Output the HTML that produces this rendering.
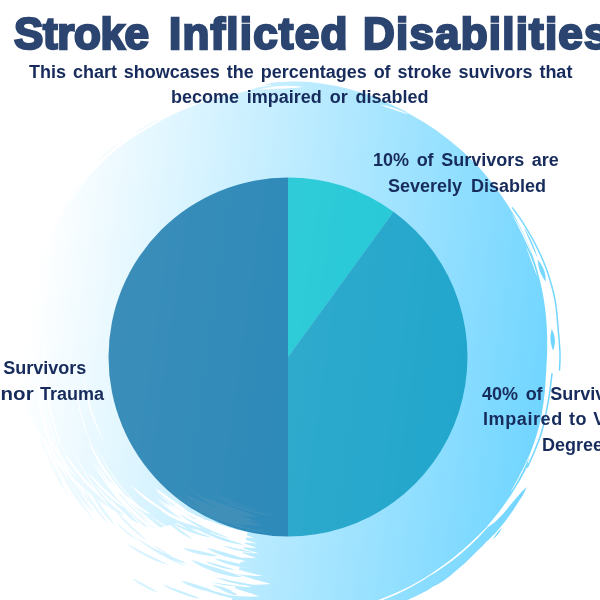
<!DOCTYPE html>
<html><head><meta charset="utf-8">
<style>
html,body{margin:0;padding:0;}
body{width:600px;height:600px;overflow:hidden;background:#fff;position:relative;font-family:"Liberation Sans",sans-serif;}
svg{position:absolute;left:0;top:0;}
.t{position:absolute;white-space:nowrap;color:#172c5c;font-weight:bold;will-change:transform;}
.ti{top:7px;font-size:44px;line-height:54px;color:#2b4570;-webkit-text-stroke:2.4px #2b4570;paint-order:stroke fill;}
.sub{font-size:18px;line-height:25.5px;word-spacing:1.9px;}
.lab{font-size:18px;line-height:26px;word-spacing:2.6px;}
</style></head><body>
<svg width="600" height="600" viewBox="0 0 600 600">
<defs>
<linearGradient id="g" x1="25" y1="350" x2="569.5" y2="428" gradientUnits="userSpaceOnUse">
<stop offset="0" stop-color="#ffffff"/><stop offset="1" stop-color="#69d3ff"/>
</linearGradient>
</defs>
<path d="M24.6 344.0C24.9 341.0 25.0 337.9 25.2 334.9C25.4 331.9 25.5 328.8 25.7 325.8C26.0 322.8 26.2 319.7 26.6 316.7C26.9 313.7 27.3 310.7 27.7 307.7C28.2 304.7 28.7 301.7 29.2 298.7C29.8 295.7 30.4 292.8 31.0 289.8C31.6 286.8 32.3 283.9 33.1 280.9C33.8 278.0 34.6 275.1 35.5 272.2C36.3 269.3 37.2 266.4 38.2 263.5C39.2 260.6 40.2 257.7 41.2 254.9C42.3 252.1 43.5 249.3 44.7 246.5C45.9 243.7 47.1 241.0 48.4 238.2C49.7 235.5 51.1 232.8 52.4 230.1C53.8 227.4 55.3 224.7 56.7 222.1C58.2 219.5 59.8 216.9 61.3 214.3C62.9 211.7 64.5 209.2 66.2 206.6C67.8 204.1 69.5 201.6 71.3 199.2C73.0 196.7 74.8 194.2 76.6 191.8C78.4 189.4 80.2 187.0 82.1 184.7C84.0 182.4 85.9 180.0 87.9 177.8C89.8 175.5 91.9 173.2 93.9 171.0C95.9 168.8 98.0 166.7 100.1 164.5C102.3 162.4 104.4 160.3 106.6 158.2C108.8 156.2 111.0 154.1 113.3 152.2C115.6 150.2 117.9 148.3 120.2 146.4C122.6 144.6 125.0 142.9 127.5 141.1C130.0 139.4 132.5 137.8 135.0 136.2C137.5 134.6 140.1 133.0 142.7 131.5C145.2 129.9 147.8 128.4 150.3 126.9C152.9 125.4 155.5 123.8 158.1 122.4C160.6 120.9 163.3 119.5 165.9 118.1C168.5 116.7 171.2 115.4 173.9 114.1C176.6 112.8 179.3 111.6 182.0 110.4C184.7 109.2 187.5 108.1 190.2 107.0C193.0 105.9 195.8 104.8 198.6 103.8C201.4 102.8 204.2 101.9 207.0 101.0C209.9 100.1 212.7 99.2 215.6 98.4C218.4 97.6 221.3 96.8 224.2 96.1C227.1 95.4 230.0 94.7 232.9 94.1C235.8 93.4 238.7 92.9 241.6 92.2C244.5 91.5 247.4 90.9 250.3 90.0C253.2 89.1 256.1 87.9 259.0 86.8C261.9 85.8 264.8 84.6 267.8 83.9C270.8 83.1 273.8 82.6 276.9 82.3C279.9 81.9 282.9 81.8 286.0 81.7C289.1 81.5 292.1 81.4 295.2 81.5C298.2 81.5 301.3 81.6 304.3 81.7C307.4 81.9 310.4 82.2 313.5 82.6C316.5 82.9 319.6 83.3 322.6 83.8C325.6 84.2 328.6 84.7 331.6 85.3C334.6 85.8 337.6 86.4 340.6 87.1C343.6 87.8 346.6 88.5 349.5 89.3C352.5 90.0 355.4 90.9 358.3 91.8C361.2 92.7 364.1 93.6 367.0 94.6C369.9 95.6 372.8 96.7 375.6 97.8C378.5 98.9 381.3 100.1 384.1 101.3C386.9 102.5 389.6 103.7 392.4 105.0C395.2 106.3 397.9 107.7 400.6 109.1C403.3 110.4 406.0 111.9 408.6 113.4C411.3 114.9 413.9 116.4 416.5 117.9C419.1 119.5 421.8 121.0 424.3 122.6C426.9 124.2 429.5 125.9 432.0 127.5C434.5 129.2 437.0 131.0 439.5 132.7C442.0 134.5 444.4 136.3 446.8 138.2C449.2 140.0 451.6 141.9 453.9 143.9C456.3 145.8 458.6 147.8 460.8 149.8C463.1 151.8 465.4 153.9 467.5 156.0C469.7 158.1 471.9 160.2 474.0 162.4C476.2 164.6 478.2 166.8 480.3 169.1C482.3 171.3 484.4 173.6 486.3 175.9C488.3 178.2 490.2 180.6 492.1 183.0C494.0 185.4 495.8 187.8 497.6 190.2C499.4 192.7 501.2 195.2 502.9 197.7C504.6 200.2 506.3 202.7 507.9 205.3C509.6 207.9 511.1 210.5 512.7 213.1C514.2 215.8 515.7 218.4 517.2 221.1C518.6 223.8 520.0 226.5 521.3 229.2C522.7 231.9 524.0 234.7 525.3 237.5C526.5 240.3 527.7 243.1 528.9 245.9C530.0 248.7 531.1 251.5 532.2 254.4C533.2 257.3 534.2 260.2 535.1 263.1C536.0 266.0 536.9 268.9 537.7 271.8C538.5 274.8 539.3 277.7 540.0 280.7C540.7 283.6 541.4 286.6 542.0 289.6C542.6 292.6 543.1 295.6 543.6 298.6C544.1 301.6 544.6 304.6 545.0 307.6C545.4 310.6 545.7 313.6 546.0 316.7C546.3 319.7 546.5 322.7 546.7 325.8C546.9 328.8 547.0 331.8 547.1 334.9C547.2 337.9 547.2 341.0 547.2 344.0C547.2 347.0 547.2 350.1 547.1 353.1C547.0 356.2 546.9 359.2 546.7 362.2C546.5 365.3 546.3 368.3 546.2 371.3C546.0 374.4 545.8 377.4 545.6 380.5C545.5 383.5 545.3 386.6 545.0 389.7C544.7 392.7 544.4 395.8 544.0 398.8C543.7 401.9 543.2 405.0 542.7 408.0C542.3 411.1 541.7 414.1 541.1 417.2C540.5 420.2 539.8 423.2 539.1 426.2C538.3 429.2 537.4 432.2 536.5 435.2C535.6 438.2 534.6 441.1 533.6 444.0C532.6 447.0 531.4 449.8 530.5 452.8C529.5 455.8 528.5 458.8 528.0 462.0C527.5 465.3 527.7 468.9 527.7 472.5C527.6 476.0 528.0 480.0 527.4 483.4C526.8 486.8 525.5 489.8 524.1 492.8C522.7 495.8 520.7 498.4 519.0 501.1C517.2 503.9 515.5 506.7 513.6 509.4C511.8 512.1 509.9 514.8 508.0 517.4C506.0 520.1 504.1 522.7 502.0 525.2C499.9 527.8 497.8 530.3 495.6 532.7C493.4 535.1 491.1 537.5 488.7 539.8C486.4 542.1 484.1 544.4 481.7 546.7C479.4 548.9 477.0 551.2 474.7 553.5C472.3 555.8 470.0 558.1 467.6 560.4C465.2 562.7 462.8 564.9 460.3 567.1C457.9 569.3 455.4 571.5 452.8 573.6C450.3 575.7 447.7 577.8 445.0 579.7C442.3 581.6 439.4 583.3 436.6 585.0C433.8 586.7 430.9 588.3 428.0 589.9C425.1 591.5 422.1 593.0 419.2 594.5C416.2 595.9 413.2 597.4 410.2 598.7C407.3 600.1 404.2 601.5 401.2 602.8C398.2 604.0 395.1 605.3 392.0 606.4C388.9 607.6 385.8 608.6 382.7 609.6C379.5 610.6 376.4 611.5 373.2 612.3C370.0 613.1 366.8 613.9 363.6 614.6C360.4 615.3 357.2 616.0 354.0 616.6C350.7 617.2 347.5 617.7 344.3 618.2C341.0 618.7 337.8 619.1 334.6 619.5C331.3 619.8 328.1 620.1 324.8 620.4C321.6 620.6 318.4 620.8 315.1 621.0C311.9 621.1 308.6 621.2 305.4 621.2C302.1 621.2 298.9 621.2 295.7 621.0C292.4 620.8 289.2 620.5 286.0 620.1C282.8 619.7 279.6 619.1 276.4 618.5C273.2 617.9 270.1 617.2 266.9 616.4C263.8 615.7 260.7 615.0 257.6 614.1C254.5 613.2 251.5 612.2 248.5 611.1C245.5 609.9 242.5 608.6 239.6 607.2C236.7 605.8 233.8 604.3 231.0 602.8C228.2 601.3 225.4 599.7 222.6 598.2C219.8 596.7 217.1 595.3 214.4 593.9C211.6 592.4 208.9 591.1 206.2 589.7C203.5 588.3 200.8 586.9 198.1 585.4C195.5 583.9 192.9 582.4 190.3 580.8C187.7 579.2 185.2 577.6 182.7 576.0C180.2 574.4 177.7 572.7 175.2 571.1C172.7 569.5 170.2 568.0 167.8 566.4C165.3 564.8 162.8 563.2 160.4 561.6C158.0 559.9 155.6 558.2 153.2 556.5C150.9 554.8 148.5 553.0 146.2 551.2C144.0 549.4 141.7 547.6 139.5 545.7C137.3 543.8 135.1 541.8 132.9 539.9C130.7 538.0 128.6 536.1 126.3 534.3C124.0 532.6 121.6 530.9 119.2 529.2C116.8 527.5 114.4 525.9 112.0 524.2C109.6 522.5 107.2 520.7 104.9 518.9C102.6 517.1 100.3 515.2 98.0 513.3C95.7 511.4 93.5 509.4 91.2 507.4C89.0 505.4 86.8 503.4 84.7 501.3C82.5 499.2 80.4 497.1 78.3 494.9C76.2 492.7 74.1 490.5 72.0 488.3C70.0 486.1 67.9 483.8 65.9 481.5C63.9 479.2 61.9 476.9 59.9 474.5C57.9 472.2 56.0 469.8 54.1 467.3C52.2 464.8 50.4 462.4 48.6 459.8C46.8 457.3 45.0 454.7 43.3 452.0C41.7 449.4 40.1 446.7 38.6 444.0C37.1 441.2 35.7 438.4 34.4 435.6C33.0 432.8 31.7 429.9 30.5 427.0C29.3 424.1 28.2 421.2 27.3 418.2C26.4 415.2 25.8 412.1 25.2 409.0C24.6 406.0 24.2 402.8 23.8 399.7C23.4 396.6 23.0 393.5 22.8 390.4C22.5 387.3 22.4 384.2 22.3 381.1C22.2 377.9 22.3 374.8 22.4 371.7C22.5 368.6 22.6 365.5 22.9 362.4C23.1 359.3 23.4 356.2 23.7 353.2C24.0 350.1 24.4 347.0 24.6 344.0Z" fill="url(#g)"/>
<path fill="#fff" d="M220.5 649.3L212.9 647.4L205.3 645.4L197.8 643.1L190.3 640.7L182.9 638.0L175.6 635.2L168.4 632.1L161.2 628.9L154.1 625.5L147.2 621.9L140.3 618.1L133.5 614.2L126.8 610.0L120.2 605.7L113.8 601.2L107.5 596.6L101.2 591.8L95.2 586.8L89.2 581.7L83.4 576.4L77.7 571.0L72.2 565.4L66.8 559.7L61.6 553.8L56.5 547.8L51.6 541.7L46.8 535.4L42.3 529.1L37.8 522.6L33.6 516.0L29.5 509.3L25.6 502.4L21.9 495.5L18.4 488.5L15.0 481.4L11.8 474.2L8.9 467.0L6.1 459.6L3.5 452.2L1.1 444.7L-1.1 437.2L-3.1 429.6L-4.9 421.9L-6.5 414.2L-7.9 406.5L23.2 401.3L26.1 407.9L29.1 414.4L32.3 420.7L36.1 426.9L40.0 432.8L44.0 438.6L48.1 444.3L52.4 449.8L56.3 455.4L60.0 460.9L63.8 466.3L67.8 471.6L72.0 476.7L76.7 481.5L81.5 486.0L86.4 490.5L91.3 494.7L96.4 498.8L101.7 502.5L107.1 506.1L112.6 509.5L118.1 512.7L123.6 515.7L129.2 518.6L134.7 521.4L140.3 523.9L145.9 526.3L151.6 528.5L159.3 527.8L167.9 525.4L175.9 523.2L183.5 521.0L190.9 518.6L196.2 519.2L201.5 519.7L206.7 520.1L211.4 521.3L215.8 523.1L220.3 524.7L224.8 526.1L229.3 527.5L233.8 528.8L238.4 530.0L243.0 531.0L247.6 531.9ZM139.6 520.3L133.6 515.2L127.8 509.9L122.3 504.3L117.1 498.4L112.1 492.3L107.4 486.0L102.9 479.6L98.7 472.9L94.9 466.0L91.4 459.0L95.5 465.7L99.7 472.3L104.1 478.7L108.7 485.1L113.5 491.3L118.4 497.3L123.4 503.3L128.7 509.1L134.1 514.7ZM186.4 545.4L179.9 542.2L173.6 538.7L167.5 534.8L161.5 530.8L155.8 526.4L150.2 521.8L144.8 517.0L139.6 512.0L134.7 506.7L130.1 501.2L135.3 506.1L140.6 511.0L145.9 515.8L151.4 520.4L157.0 524.9L162.6 529.2L168.4 533.5L174.3 537.5L180.3 541.5ZM206.5 525.9L201.9 524.5L197.3 522.8L192.8 520.9L188.4 518.8L184.1 516.5L179.8 514.1L175.7 511.5L171.7 508.7L167.7 505.8L164.0 502.6L168.3 505.1L172.5 507.6L176.7 510.0L181.0 512.5L185.2 514.8L189.4 517.1L193.7 519.3L198.0 521.5L202.3 523.7ZM64.7 454.4L59.5 443.1L55.1 431.4L51.4 419.5L48.4 407.4L46.0 395.2L44.3 382.8L43.4 370.3L43.1 357.8L43.6 345.4L44.8 332.9L44.4 345.4L44.5 357.8L45.1 370.2L46.2 382.6L48.0 394.9L50.2 407.0L53.1 419.1L56.4 431.0L60.3 442.8ZM176.9 532.5L174.1 531.3L171.3 529.9L168.6 528.5L166.0 527.0L163.3 525.5L160.7 523.8L158.2 522.1L155.7 520.3L153.3 518.5L150.9 516.5L153.6 518.1L156.2 519.7L158.8 521.3L161.4 522.9L164.0 524.5L166.6 526.1L169.2 527.7L171.8 529.3L174.4 530.8ZM222.0 533.4L216.3 531.5L210.7 529.2L205.3 526.8L199.9 524.1L194.6 521.2L189.5 518.1L184.5 514.7L179.7 511.2L175.0 507.5L170.5 503.5L175.4 507.0L180.3 510.3L185.3 513.6L190.3 516.8L195.4 519.8L200.6 522.7L205.9 525.5L211.2 528.2L216.6 530.8ZM137.0 508.0L130.9 502.5L125.0 496.7L119.5 490.5L114.2 484.1L109.2 477.5L104.5 470.6L100.1 463.5L96.0 456.3L92.3 448.8L89.0 441.1L93.0 448.5L97.0 455.7L101.3 462.8L105.8 469.8L110.5 476.6L115.4 483.2L120.6 489.6L125.9 495.9L131.4 502.0ZM38.4 463.4L32.7 450.4L27.9 437.0L23.9 423.4L20.6 409.5L18.2 395.5L16.5 381.4L15.7 367.2L15.8 353.0L16.6 338.8L18.4 324.7L17.6 338.9L17.4 353.0L17.7 367.1L18.8 381.2L20.5 395.2L22.8 409.1L25.8 422.9L29.4 436.5L33.7 450.0ZM147.3 533.9L142.9 531.2L138.6 528.2L134.5 525.0L130.5 521.7L126.7 518.2L122.9 514.6L119.3 510.8L115.9 506.9L112.6 502.9L109.5 498.7L113.3 502.3L117.0 505.9L120.7 509.6L124.5 513.1L128.2 516.6L132.0 520.1L135.8 523.6L139.6 527.0L143.5 530.4ZM57.6 462.2L54.2 455.7L51.2 449.0L48.5 442.2L46.1 435.3L43.9 428.3L42.1 421.2L40.5 414.1L39.2 406.9L38.2 399.6L37.7 392.3L39.3 399.4L40.9 406.5L42.6 413.6L44.4 420.6L46.3 427.6L48.4 434.6L50.6 441.5L52.8 448.4L55.2 455.3ZM220.3 527.0L216.2 526.2L212.3 525.0L208.5 523.7L204.7 522.2L200.9 520.5L197.3 518.7L193.7 516.7L190.3 514.5L186.9 512.2L183.7 509.7L187.5 511.3L191.2 513.0L194.9 514.8L198.5 516.5L202.2 518.3L205.8 520.0L209.4 521.7L213.0 523.4L216.7 525.2ZM220.0 533.9L213.0 531.9L206.2 529.4L199.5 526.5L192.9 523.3L186.5 519.8L180.2 516.0L174.2 511.9L168.3 507.5L162.7 502.8L157.3 497.8L163.3 502.1L169.2 506.3L175.3 510.4L181.4 514.3L187.6 518.0L193.9 521.5L200.4 524.8L206.8 528.0L213.4 531.0ZM208.8 526.4L204.1 524.7L199.5 522.7L194.9 520.6L190.4 518.3L186.0 515.9L181.6 513.3L177.4 510.6L173.2 507.7L169.1 504.7L165.2 501.5L169.4 504.3L173.6 507.2L177.9 509.9L182.2 512.5L186.5 515.0L190.9 517.5L195.3 519.8L199.8 522.1L204.3 524.3ZM193.9 528.2L190.7 527.4L187.7 526.3L184.7 525.0L181.7 523.7L178.8 522.2L176.0 520.6L173.3 518.9L170.6 517.1L168.0 515.2L165.5 513.1L168.6 514.4L171.5 515.9L174.4 517.4L177.2 518.8L180.1 520.3L182.9 521.9L185.7 523.4L188.4 524.9L191.2 526.5ZM111.1 509.3L106.2 503.9L101.6 498.3L97.1 492.5L92.9 486.5L88.9 480.4L85.2 474.2L81.6 467.8L78.3 461.3L75.2 454.7L72.4 448.0L75.6 454.5L78.9 461.0L82.4 467.4L86.0 473.7L89.8 479.9L93.8 486.0L97.9 491.9L102.1 497.8L106.6 503.6ZM205.2 529.3L199.8 527.2L194.5 524.8L189.3 522.2L184.2 519.5L179.2 516.5L174.4 513.3L169.6 510.0L164.9 506.5L160.4 502.8L156.1 498.8L160.8 502.4L165.5 505.8L170.2 509.2L175.0 512.4L179.9 515.5L184.9 518.5L189.9 521.4L194.9 524.1L200.0 526.8ZM56.9 452.3L52.4 442.0L48.5 431.5L45.2 420.7L42.3 409.8L40.0 398.8L38.2 387.7L37.0 376.5L36.3 365.2L36.1 353.9L36.6 342.6L36.6 353.9L37.1 365.2L38.0 376.4L39.3 387.5L41.2 398.6L43.4 409.6L46.2 420.5L49.3 431.2L52.9 441.8ZM95.9 454.6L92.1 447.1L88.8 439.5L85.8 431.7L83.2 423.9L80.8 415.9L78.8 407.8L77.2 399.7L75.9 391.5L75.0 383.2L74.5 374.9L75.4 383.2L76.6 391.3L78.0 399.5L79.8 407.6L81.8 415.6L84.1 423.6L86.6 431.4L89.4 439.2L92.5 447.0ZM170.5 540.2L165.8 537.9L161.2 535.3L156.7 532.6L152.3 529.8L148.0 526.8L143.8 523.6L139.6 520.3L135.6 516.9L131.7 513.4L128.0 509.6L132.1 513.0L136.2 516.3L140.4 519.5L144.6 522.6L148.8 525.7L153.1 528.8L157.4 531.7L161.8 534.6L166.1 537.4ZM214.5 534.9L207.9 532.4L201.5 529.6L195.2 526.5L189.0 523.2L183.0 519.5L177.1 515.7L171.4 511.5L165.9 507.2L160.6 502.6L155.5 497.7L160.9 502.2L166.4 506.5L172.1 510.7L177.8 514.7L183.7 518.5L189.6 522.1L195.7 525.6L201.9 528.9L208.1 531.9ZM151.9 524.6L146.4 520.5L141.3 516.1L136.3 511.5L131.5 506.7L126.9 501.7L122.5 496.5L118.3 491.2L114.4 485.6L110.7 480.0L107.3 474.1L111.3 479.5L115.4 484.9L119.6 490.2L123.9 495.4L128.3 500.5L132.8 505.5L137.4 510.4L142.1 515.2L147.0 519.9ZM172.8 540.1L168.9 538.2L165.2 536.0L161.5 533.7L158.0 531.2L154.6 528.6L151.2 525.8L148.0 523.0L144.9 520.0L141.9 516.8L139.2 513.5L142.6 516.0L146.0 518.7L149.4 521.3L152.7 524.0L156.1 526.7L159.4 529.3L162.8 532.0L166.1 534.6L169.5 537.3ZM158.8 538.9L154.9 536.2L151.1 533.4L147.4 530.4L143.7 527.4L140.2 524.2L136.8 520.9L133.4 517.6L130.2 514.1L127.1 510.5L124.1 506.8L127.5 510.2L130.8 513.5L134.1 516.8L137.5 520.1L141.0 523.3L144.5 526.5L148.0 529.7L151.6 532.7L155.2 535.8ZM104.4 442.6L100.7 436.0L97.4 429.2L94.5 422.2L91.8 415.1L89.4 407.9L87.3 400.5L85.6 393.1L84.2 385.6L83.2 378.0L82.5 370.4L83.8 377.9L85.3 385.4L86.9 392.8L88.8 400.2L90.9 407.5L93.2 414.7L95.7 421.8L98.5 428.8L101.4 435.7ZM237.6 538.9L228.3 536.3L219.2 533.2L210.3 529.5L201.6 525.3L193.1 520.7L185.0 515.6L177.1 510.1L169.5 504.1L162.3 497.7L155.5 490.9L162.7 497.3L170.1 503.4L177.7 509.2L185.6 514.6L193.8 519.6L202.2 524.2L210.7 528.5L219.5 532.3L228.5 535.8ZM115.3 487.2L111.8 483.0L108.6 478.6L105.5 474.1L102.5 469.5L99.7 464.8L97.1 460.0L94.6 455.1L92.2 450.2L90.0 445.2L88.1 440.1L90.5 445.0L92.9 449.9L95.4 454.7L98.0 459.5L100.7 464.2L103.4 468.9L106.3 473.6L109.2 478.2L112.2 482.7ZM209.4 523.9L205.4 522.7L201.4 521.2L197.5 519.6L193.6 517.7L189.9 515.8L186.2 513.7L182.6 511.5L179.0 509.1L175.6 506.6L172.3 503.9L176.1 505.9L179.8 508.0L183.5 510.1L187.2 512.2L190.9 514.2L194.6 516.2L198.3 518.1L202.0 520.0L205.7 522.0ZM54.6 436.0L52.5 431.1L50.6 426.0L48.8 420.9L47.2 415.7L45.7 410.5L44.4 405.3L43.2 400.0L42.1 394.7L41.2 389.3L40.5 384.0L41.6 389.3L42.7 394.6L43.9 399.9L45.2 405.1L46.5 410.4L48.0 415.6L49.5 420.7L51.1 425.9L52.8 431.0ZM120.0 511.4L117.0 509.2L114.1 506.7L111.3 504.2L108.6 501.5L106.0 498.8L103.5 496.0L101.1 493.1L98.8 490.2L96.5 487.1L94.5 483.9L97.2 486.7L99.8 489.4L102.4 492.2L104.9 494.9L107.5 497.7L110.0 500.4L112.6 503.2L115.1 505.9L117.6 508.6ZM166.6 538.7L157.6 533.1L149.0 526.9L140.8 520.2L133.0 513.1L125.6 505.5L118.6 497.5L112.1 489.2L106.1 480.4L100.6 471.4L95.8 462.0L101.6 470.8L107.6 479.4L113.9 487.8L120.6 495.9L127.5 503.8L134.8 511.3L142.3 518.6L150.2 525.6L158.3 532.2ZM84.3 500.2L79.2 492.7L74.3 485.0L69.8 477.2L65.6 469.1L61.8 460.9L58.2 452.6L55.0 444.1L52.1 435.5L49.6 426.8L47.5 418.1L50.0 426.7L52.7 435.4L55.7 443.9L59.0 452.3L62.5 460.6L66.4 468.8L70.5 476.8L74.8 484.7L79.5 492.5ZM95.0 511.9L87.1 502.0L79.9 491.7L73.2 480.9L67.1 469.9L61.5 458.5L56.6 446.9L52.3 435.0L48.7 422.9L45.7 410.6L43.4 398.2L46.0 410.5L49.2 422.7L53.0 434.8L57.4 446.6L62.3 458.2L67.8 469.5L73.8 480.6L80.4 491.3L87.4 501.8ZM146.8 513.8L140.1 507.9L133.8 501.7L127.7 495.3L121.9 488.5L116.4 481.5L111.3 474.2L106.5 466.7L102.0 459.0L97.9 451.1L94.2 443.0L98.2 450.9L102.6 458.7L107.1 466.3L112.0 473.7L117.2 480.9L122.6 487.9L128.3 494.7L134.2 501.3L140.4 507.6ZM188.9 512.0L184.9 510.6L181.1 508.8L177.4 506.7L173.9 504.6L170.4 502.2L167.1 499.7L163.8 497.1L160.7 494.3L157.7 491.4L155.1 488.1L158.7 490.3L162.2 492.7L165.6 495.1L168.9 497.5L172.3 499.9L175.7 502.2L179.0 504.6L182.4 507.0L185.7 509.4ZM172.8 515.6L167.9 513.5L163.2 511.1L158.7 508.4L154.2 505.6L149.8 502.6L145.6 499.4L141.5 496.0L137.5 492.5L133.7 488.8L130.2 484.8L134.6 488.0L138.8 491.3L143.0 494.6L147.3 497.7L151.5 500.8L155.8 503.9L160.0 506.8L164.3 509.7L168.6 512.6ZM150.9 514.7L145.6 512.4L140.7 509.6L135.8 506.5L131.2 503.3L126.6 499.8L122.2 496.1L117.9 492.3L113.8 488.3L109.9 484.0L106.4 479.5L111.1 483.2L115.6 486.9L120.0 490.6L124.4 494.3L128.8 497.8L133.3 501.3L137.7 504.7L142.2 508.0L146.6 511.3ZM125.6 508.4L121.1 505.7L116.8 502.7L112.7 499.4L108.7 496.0L104.9 492.5L101.2 488.8L97.6 485.0L94.1 481.0L90.8 476.9L87.9 472.5L91.9 476.2L95.7 480.0L99.5 483.7L103.2 487.4L107.0 491.0L110.7 494.5L114.5 498.0L118.3 501.4L122.1 504.9ZM191.5 524.1L187.9 523.5L184.6 522.6L181.2 521.4L178.0 520.1L174.8 518.7L171.6 517.2L168.6 515.5L165.6 513.7L162.7 511.7L160.1 509.4L163.6 510.6L166.8 512.1L170.1 513.5L173.2 515.0L176.4 516.4L179.5 517.9L182.6 519.3L185.6 520.8L188.6 522.4ZM107.7 503.0L102.3 499.0L97.2 494.6L92.3 490.0L87.5 485.2L83.0 480.2L78.6 475.0L74.4 469.6L70.4 464.1L66.7 458.3L63.4 452.3L67.8 457.8L72.0 463.3L76.3 468.6L80.6 473.9L85.0 479.0L89.5 484.0L94.0 488.8L98.6 493.6L103.2 498.3ZM77.6 478.5L72.9 473.8L68.5 468.8L64.4 463.7L60.4 458.3L56.6 452.9L53.0 447.2L49.5 441.4L46.3 435.5L43.3 429.5L40.7 423.3L44.3 429.2L47.7 435.1L51.2 440.9L54.8 446.5L58.4 452.1L62.1 457.6L65.9 462.9L69.8 468.2L73.7 473.3ZM270.9 584.0L263.4 584.6L255.8 584.7L248.3 584.4L240.7 583.8L233.2 582.5L225.9 580.6L218.6 578.5L211.4 576.1L204.3 573.5L197.3 570.6L200.8 562.4L207.6 565.1L214.4 567.6L221.3 569.9L228.3 572.0L235.4 573.8L242.4 575.8L249.4 578.0L256.5 580.1L263.7 581.9ZM263.0 576.1L256.6 576.0L250.2 575.6L243.9 574.9L237.5 574.0L231.2 572.7L225.0 570.9L218.9 569.0L212.8 566.9L206.8 564.7L200.9 562.3L202.8 557.7L208.6 560.0L214.5 562.2L220.5 564.3L226.4 566.1L232.5 567.8L238.5 569.6L244.6 571.4L250.7 573.0L256.8 574.5ZM256.7 548.0L252.0 548.0L247.3 547.6L242.7 547.1L238.0 546.5L233.4 545.5L228.9 544.1L224.5 542.7L220.0 541.1L215.7 539.4L211.3 537.6L213.5 532.6L217.7 534.3L221.9 535.9L226.2 537.5L230.6 538.9L234.9 540.2L239.3 541.7L243.6 543.3L247.9 544.8L252.3 546.3ZM256.2 558.0L251.1 558.1L246.0 557.8L241.0 557.4L236.0 556.8L231.0 555.7L226.2 554.3L221.4 552.7L216.6 551.0L211.9 549.2L207.2 547.3L209.8 541.3L214.3 543.2L218.9 544.9L223.5 546.6L228.1 548.1L232.8 549.5L237.4 551.1L242.1 552.9L246.7 554.5L251.4 556.2ZM253.8 537.8L249.8 537.7L245.8 537.3L241.9 536.8L237.9 536.2L234.0 535.3L230.2 534.1L226.4 532.8L222.7 531.4L218.9 530.0L215.2 528.4L217.0 524.3L220.6 525.8L224.2 527.2L227.9 528.5L231.6 529.8L235.3 530.9L239.0 532.2L242.7 533.7L246.4 535.0L250.1 536.4ZM259.5 596.3L252.5 596.7L245.6 596.6L238.6 596.2L231.7 595.5L224.9 594.2L218.2 592.4L211.6 590.3L205.0 588.0L198.5 585.6L192.1 583.0L195.6 574.7L201.8 577.2L208.0 579.6L214.4 581.7L220.8 583.7L227.2 585.5L233.6 587.6L239.9 589.9L246.4 592.0L252.9 594.1ZM258.7 553.3L253.6 553.2L248.5 552.9L243.5 552.3L238.4 551.5L233.4 550.5L228.6 549.0L223.7 547.4L218.9 545.8L214.2 543.9L209.5 542.0L211.4 537.4L216.0 539.3L220.6 541.1L225.3 542.7L230.0 544.2L234.8 545.6L239.5 547.2L244.3 548.8L249.0 550.3L253.8 551.8ZM256.8 543.4L252.3 543.2L247.8 542.7L243.4 542.1L238.9 541.4L234.6 540.4L230.2 539.1L226.0 537.6L221.7 536.1L217.5 534.5L213.4 532.8L214.9 529.1L219.0 530.8L223.1 532.4L227.3 533.9L231.5 535.2L235.7 536.5L239.9 537.9L244.1 539.3L248.3 540.7L252.5 542.0ZM246.3 561.8L242.1 561.7L237.8 561.2L233.6 560.7L229.4 560.0L225.3 559.0L221.2 557.7L217.2 556.3L213.2 554.8L209.3 553.3L205.4 551.7L207.3 547.1L211.1 548.7L215.0 550.2L218.9 551.6L222.8 552.9L226.8 554.2L230.7 555.6L234.5 557.2L238.5 558.7L242.4 560.2ZM251.6 587.1L245.8 587.1L240.0 586.6L234.3 585.9L228.6 585.1L222.9 583.9L217.4 582.2L211.9 580.4L206.5 578.5L201.1 576.4L195.8 574.2L198.1 568.7L203.3 570.8L208.6 572.9L213.9 574.7L219.2 576.5L224.6 578.1L230.0 579.9L235.3 581.7L240.7 583.6L246.1 585.3ZM247.1 567.6L242.5 567.2L238.0 566.7L233.6 566.0L229.1 565.1L224.7 564.0L220.4 562.7L216.1 561.2L211.8 559.7L207.6 558.0L203.4 556.3L205.0 552.6L209.1 554.3L213.2 555.9L217.4 557.4L221.6 558.9L225.9 560.2L230.1 561.7L234.3 563.2L238.5 564.7L242.8 566.1ZM259.2 89.4L263.6 88.3L268.1 87.4L272.5 86.8L277.0 86.3L281.5 86.0L286.0 85.8L290.5 85.9L295.0 86.1L299.5 86.4L304.0 87.1L299.4 87.6L294.9 87.9L290.5 88.1L286.0 88.4L281.5 88.6L277.1 88.8L272.6 89.0L268.2 89.2L263.7 89.4ZM250.0 88.0L252.2 87.3L254.4 86.7L256.6 86.3L258.9 85.8L261.1 85.5L263.4 85.2L265.6 85.0L267.9 84.9L270.1 84.8L272.4 84.9L270.2 85.4L267.9 85.8L265.7 86.2L263.5 86.6L261.2 86.9L259.0 87.2L256.8 87.5L254.5 87.7L252.3 87.9ZM380.3 104.7L383.2 105.2L386.1 105.8L389.0 106.6L391.8 107.4L394.6 108.3L397.4 109.3L400.2 110.4L402.9 111.6L405.6 112.8L408.2 114.3L405.2 113.5L402.4 112.6L399.6 111.7L396.8 110.7L394.0 109.8L391.2 108.8L388.4 107.8L385.7 106.9L383.0 105.8ZM545.5 473.4L532.3 483.4L527.2 486.6L521.9 491.4L512.4 502.5L503.2 513.7L494.8 522.3L486.7 527.9L486.2 527.5L499.7 511.0L510.7 495.5L520.5 479.4L528.2 464.7ZM491.3 522.4L487.9 527.0L484.2 531.2L480.3 535.4L476.4 539.4L472.3 543.4L468.2 547.2L464.0 551.0L459.6 554.7L455.3 558.2L450.8 561.7L446.2 565.0L441.6 568.3L436.9 571.4L432.1 574.5L427.2 577.3L422.2 579.8L426.7 576.5L431.5 573.4L436.1 570.3L440.7 567.1L445.3 563.7L449.8 560.4L454.2 556.9L458.6 553.3L462.9 549.7L467.1 546.0L471.2 542.2L475.3 538.3L479.3 534.4L483.3 530.4L487.2 526.4ZM430.4 575.0L425.0 578.9L419.5 582.3L413.8 585.6L408.0 588.7L402.1 591.7L396.2 594.5L390.2 597.1L384.1 599.6L378.0 602.0L371.8 604.1L365.5 606.2L359.2 608.0L352.9 609.7L346.5 611.2L340.0 612.5L333.5 613.3L339.8 611.6L346.2 610.0L352.5 608.4L358.8 606.6L365.1 604.6L371.3 602.6L377.4 600.4L383.5 598.0L389.6 595.6L395.5 593.0L401.5 590.2L407.3 587.4L413.1 584.4L418.9 581.3L424.6 578.1ZM498.2 536.4L497.4 537.9L496.4 539.2L495.3 540.5L494.1 541.6L492.7 542.5L491.2 543.4L489.5 544.0L487.7 544.6L485.8 545.0L483.8 545.3L484.7 543.9L485.7 542.6L486.8 541.4L488.1 540.4L489.4 539.4L490.9 538.6L492.6 537.9L494.4 537.3L496.2 536.8ZM445.0 584.2L443.8 585.2L442.6 586.1L441.3 586.9L440.0 587.5L438.5 588.1L437.0 588.5L435.4 588.7L433.7 588.8L431.9 588.8L430.1 588.7L431.3 587.8L432.5 586.9L433.8 586.2L435.2 585.5L436.6 585.0L438.1 584.6L439.7 584.4L441.4 584.2L443.1 584.1ZM402.7 606.2L401.4 606.9L400.1 607.6L398.6 608.1L397.2 608.5L395.7 608.8L394.1 608.9L392.5 608.9L390.8 608.8L389.1 608.6L387.4 608.2L388.7 607.5L390.1 606.9L391.5 606.5L393.0 606.1L394.5 605.8L396.0 605.7L397.6 605.7L399.3 605.8L401.0 605.9ZM532.3 448.6L530.7 453.2L528.9 457.8L527.0 462.3L524.9 466.8L522.8 471.2L520.5 475.6L518.1 479.9L515.7 484.2L513.1 488.4L510.3 492.5L512.7 488.1L515.1 483.8L517.4 479.5L519.7 475.1L521.9 470.8L524.1 466.4L526.2 461.9L528.3 457.5L530.3 453.0ZM511.7 213.7L514.2 217.5L516.6 221.4L518.9 225.3L521.0 229.4L523.1 233.4L525.0 237.6L526.9 241.8L528.6 246.0L530.2 250.3L531.6 254.6L529.7 250.4L527.8 246.3L525.9 242.2L524.0 238.0L522.0 234.0L520.0 229.9L517.9 225.8L515.9 221.8L513.8 217.7ZM526.1 247.0L527.6 249.8L528.9 252.7L530.2 255.6L531.4 258.5L532.6 261.5L533.6 264.5L534.6 267.5L535.6 270.6L536.4 273.6L537.1 276.7L536.0 273.7L534.9 270.7L533.8 267.8L532.7 264.8L531.6 261.8L530.5 258.9L529.4 255.9L528.3 252.9L527.2 250.0Z"/>
<path fill="#fff" fill-opacity="0.9" d="M261.3 525.4L255.2 525.6L249.1 525.3L243.1 524.7L237.0 523.8L231.0 522.4L225.2 520.7L219.4 518.5L213.8 516.0L208.4 513.1L203.2 509.9L198.3 506.3L193.5 502.5L189.0 498.4L184.8 494.0L190.3 496.5L195.8 498.9L201.3 501.3L206.7 503.6L212.2 505.8L217.6 508.1L222.9 510.3L228.3 512.5L233.7 514.7L239.1 516.9L244.6 519.1L250.1 521.2L255.7 523.3ZM257.0 516.5L252.1 516.5L247.3 516.2L242.5 515.7L237.7 514.8L233.0 513.7L228.4 512.2L223.9 510.4L219.5 508.4L215.3 506.0L211.2 503.5L207.3 500.6L203.5 497.6L208.2 499.1L212.7 500.6L217.2 502.1L221.7 503.6L226.2 505.1L230.6 506.6L235.0 508.2L239.3 509.8L243.7 511.5L248.1 513.1L252.5 514.8ZM269.6 532.5L259.7 531.5L250.0 529.8L240.4 527.4L231.0 524.4L221.8 520.9L212.8 516.8L204.1 512.1L195.8 506.9L187.8 501.2L180.3 494.9L188.3 500.5L196.5 505.7L205.0 510.6L213.6 515.0L222.5 519.0L231.6 522.6L240.9 525.7L250.3 528.4L259.9 530.6ZM250.7 518.7L242.7 516.9L235.0 514.6L227.3 511.8L219.9 508.6L212.6 505.0L205.6 500.9L198.8 496.5L192.2 491.8L186.0 486.7L180.1 481.1L186.4 486.1L192.9 490.9L199.5 495.4L206.3 499.6L213.3 503.5L220.5 507.2L227.8 510.5L235.3 513.5L242.9 516.2ZM274.1 515.4L267.8 514.9L261.5 514.0L255.2 512.7L249.0 511.2L242.9 509.4L236.8 507.3L230.9 504.9L225.1 502.3L219.5 499.3L214.1 496.1L219.8 498.8L225.5 501.4L231.4 503.8L237.3 506.0L243.3 508.1L249.3 509.9L255.4 511.6L261.6 513.0L267.9 514.3ZM258.2 510.1L252.6 509.1L247.1 507.7L241.6 506.0L236.2 504.1L230.9 502.0L225.7 499.7L220.6 497.1L215.6 494.3L210.8 491.3L206.1 488.0L211.0 490.8L216.0 493.6L221.0 496.2L226.1 498.6L231.3 500.9L236.6 503.0L241.9 505.0L247.3 506.9L252.7 508.5ZM227.1 524.3L220.4 521.8L213.8 519.0L207.4 515.9L201.1 512.4L195.0 508.7L189.1 504.7L183.4 500.5L177.9 495.9L172.6 491.2L167.6 486.1L173.0 490.7L178.5 495.2L184.1 499.5L189.9 503.6L195.8 507.5L201.8 511.3L207.9 514.8L214.2 518.1L220.6 521.3ZM245.9 525.8L240.0 524.5L234.1 522.9L228.3 520.9L222.7 518.7L217.1 516.2L211.7 513.4L206.4 510.5L201.3 507.2L196.3 503.8L191.5 500.0L196.7 503.0L201.9 506.1L207.2 508.9L212.5 511.7L217.9 514.4L223.4 516.9L228.9 519.3L234.5 521.5L240.2 523.7ZM258.9 522.0L254.3 521.4L249.6 520.5L245.1 519.4L240.6 518.1L236.1 516.6L231.8 514.9L227.5 513.1L223.3 511.0L219.2 508.8L215.2 506.2L219.6 507.9L223.9 509.6L228.2 511.3L232.5 512.9L236.8 514.5L241.2 516.1L245.6 517.6L250.0 519.0L254.4 520.5Z"/>
<path fill="url(#g)" d="M86.3 509.0L82.6 505.2L79.2 501.1L75.9 496.9L72.9 492.6L69.9 488.2L67.2 483.7L64.6 479.1L62.2 474.3L60.0 469.5L58.1 464.5L61.1 469.0L63.8 473.5L66.6 478.0L69.4 482.4L72.2 486.9L75.0 491.3L77.8 495.7L80.7 500.1L83.5 504.5ZM95.1 522.1L91.4 517.9L87.9 513.4L84.5 508.9L81.3 504.3L78.3 499.6L75.4 494.7L72.7 489.8L70.1 484.8L67.7 479.8L65.6 474.6L68.3 479.4L71.1 484.3L73.9 489.1L76.7 493.9L79.6 498.6L82.6 503.4L85.6 508.1L88.7 512.7L91.9 517.4ZM59.4 480.4L57.0 476.5L54.8 472.5L52.8 468.4L50.8 464.3L49.0 460.1L47.3 455.8L45.8 451.5L44.4 447.2L43.1 442.8L42.0 438.3L43.7 442.6L45.4 446.8L47.0 451.0L48.7 455.2L50.5 459.4L52.2 463.6L54.0 467.8L55.8 472.0L57.6 476.2ZM115.4 525.9L111.9 522.8L108.7 519.4L105.7 515.8L102.8 512.2L100.0 508.5L97.4 504.6L95.0 500.6L92.7 496.6L90.6 492.4L88.8 488.1L91.6 491.7L94.3 495.4L96.9 499.2L99.6 502.9L102.2 506.7L104.8 510.5L107.5 514.3L110.2 518.1L112.8 521.9ZM89.2 508.6L85.8 504.9L82.6 501.0L79.6 497.0L76.7 492.8L73.9 488.6L71.3 484.3L68.8 479.9L66.5 475.4L64.4 470.8L62.5 466.2L65.1 470.4L67.7 474.8L70.3 479.1L72.9 483.3L75.6 487.6L78.3 491.8L81.0 496.0L83.7 500.2L86.5 504.4ZM68.1 486.9L65.5 482.5L63.0 478.1L60.6 473.6L58.4 469.0L56.3 464.4L54.3 459.7L52.4 455.0L50.6 450.2L49.0 445.4L47.5 440.5L49.3 445.2L51.2 450.0L53.0 454.7L55.0 459.4L57.0 464.0L59.1 468.6L61.3 473.2L63.5 477.8L65.8 482.4ZM147.6 541.3L143.5 538.5L139.7 535.6L135.9 532.5L132.2 529.2L128.7 525.8L125.2 522.4L121.9 518.8L118.7 515.1L115.7 511.3L112.8 507.3L116.3 510.7L119.6 514.2L123.0 517.7L126.5 521.1L129.9 524.5L133.4 527.9L136.9 531.3L140.4 534.6L144.0 537.9ZM45.5 455.0L44.6 453.3L43.9 451.4L43.2 449.6L42.5 447.7L42.0 445.8L41.5 443.9L41.0 442.0L40.6 440.0L40.3 438.1L40.1 436.1L40.9 437.9L41.6 439.7L42.2 441.6L42.7 443.5L43.3 445.3L43.8 447.2L44.3 449.2L44.8 451.1L45.2 453.0ZM230.0 538.4L224.4 537.0L218.9 535.3L213.5 533.4L208.1 531.2L202.9 528.8L197.7 526.2L192.7 523.3L187.8 520.2L183.1 517.0L178.5 513.4L183.6 516.2L188.6 519.0L193.6 521.7L198.7 524.3L203.8 526.9L209.0 529.3L214.2 531.7L219.4 534.0L224.7 536.2ZM57.0 473.9L54.6 469.8L52.4 465.6L50.4 461.3L48.4 457.0L46.5 452.6L44.8 448.2L43.2 443.8L41.7 439.3L40.3 434.7L39.1 430.1L40.8 434.6L42.5 439.0L44.1 443.4L45.9 447.8L47.6 452.2L49.4 456.5L51.3 460.9L53.2 465.2L55.1 469.5ZM69.8 499.0L66.5 494.4L63.5 489.6L60.6 484.7L57.8 479.8L55.3 474.7L52.9 469.6L50.6 464.4L48.5 459.2L46.6 453.9L44.9 448.5L47.2 453.6L49.5 458.8L51.8 463.9L54.2 469.0L56.7 474.0L59.2 479.1L61.8 484.1L64.4 489.0L67.1 494.0ZM192.5 539.2L188.8 537.5L185.2 535.5L181.8 533.4L178.4 531.2L175.1 528.8L172.0 526.3L168.9 523.6L165.9 520.9L163.1 518.0L160.5 514.8L163.8 517.1L166.9 519.5L170.1 521.9L173.3 524.3L176.5 526.7L179.7 529.2L182.9 531.6L186.1 534.1L189.3 536.5ZM82.6 506.8L80.5 504.4L78.6 502.0L76.7 499.5L74.9 497.0L73.2 494.4L71.5 491.8L69.9 489.2L68.4 486.5L66.9 483.8L65.6 481.0L67.4 483.5L69.1 486.1L70.8 488.7L72.5 491.3L74.2 493.8L75.9 496.4L77.6 499.0L79.2 501.6L80.9 504.1ZM202.9 535.6L199.4 534.4L196.0 533.0L192.7 531.4L189.4 529.7L186.2 527.9L183.1 525.9L180.0 523.9L177.0 521.7L174.1 519.4L171.4 516.9L174.7 518.7L177.8 520.5L181.0 522.4L184.1 524.3L187.2 526.1L190.4 528.0L193.5 529.9L196.7 531.7L199.8 533.6ZM186.7 566.4L181.0 564.3L175.4 561.9L169.9 559.4L164.5 556.6L159.1 553.7L153.9 550.5L148.8 547.2L143.8 543.7L138.9 540.0L134.3 536.0L139.4 539.4L144.5 542.7L149.7 546.0L154.8 549.2L160.1 552.2L165.3 555.2L170.6 558.1L176.0 560.9L181.3 563.6ZM232.1 591.1L230.0 591.0L227.9 590.7L225.8 590.3L223.8 589.8L221.8 589.2L219.8 588.5L217.8 587.7L215.9 586.9L214.0 585.9L212.2 584.8L214.3 585.0L216.3 585.4L218.4 585.9L220.4 586.5L222.4 587.1L224.4 587.7L226.3 588.4L228.3 589.2L230.2 590.0ZM171.2 556.2L169.4 555.4L167.6 554.6L165.8 553.6L164.1 552.6L162.3 551.6L160.7 550.5L159.0 549.4L157.4 548.2L155.8 547.0L154.2 545.7L156.0 546.6L157.8 547.6L159.5 548.6L161.2 549.7L162.9 550.7L164.6 551.8L166.3 552.8L168.0 553.9L169.6 555.0ZM239.4 586.3L236.4 586.3L233.5 586.1L230.6 585.9L227.6 585.5L224.7 585.2L221.8 584.7L218.9 584.1L216.0 583.5L213.1 582.8L210.3 582.0L213.3 582.4L216.2 582.8L219.1 583.2L222.1 583.7L225.0 584.1L227.9 584.5L230.8 585.0L233.7 585.4L236.5 585.8ZM108.4 524.4L105.2 521.1L102.1 517.7L99.2 514.1L96.4 510.5L93.7 506.7L91.1 502.9L88.7 499.0L86.5 495.0L84.3 490.9L82.5 486.7L85.1 490.4L87.7 494.2L90.2 497.9L92.8 501.7L95.4 505.5L98.0 509.2L100.6 513.0L103.2 516.8L105.9 520.5ZM97.7 510.1L94.8 507.4L92.0 504.7L89.2 501.8L86.6 498.9L84.0 495.9L81.5 492.8L79.1 489.7L76.7 486.5L74.5 483.2L72.4 479.9L74.9 483.0L77.4 486.1L79.9 489.1L82.4 492.2L85.0 495.2L87.5 498.2L90.0 501.2L92.6 504.2L95.2 507.1ZM136.7 540.0L134.4 538.6L132.2 537.1L130.0 535.5L127.9 533.9L125.8 532.1L123.8 530.4L121.8 528.6L119.9 526.7L118.0 524.8L116.2 522.7L118.4 524.3L120.5 526.0L122.6 527.7L124.7 529.4L126.7 531.2L128.7 532.9L130.8 534.6L132.8 536.4L134.8 538.1ZM93.7 512.4L90.5 509.2L87.4 505.8L84.5 502.3L81.8 498.8L79.1 495.1L76.6 491.3L74.3 487.4L72.0 483.5L69.9 479.4L68.1 475.3L70.8 478.9L73.4 482.7L76.0 486.4L78.5 490.1L81.1 493.8L83.6 497.5L86.2 501.2L88.7 504.9L91.3 508.6ZM63.4 487.8L61.9 486.0L60.7 484.1L59.5 482.1L58.5 480.1L57.5 478.0L56.6 475.8L55.9 473.6L55.2 471.4L54.7 469.1L54.4 466.7L55.7 468.6L56.9 470.6L57.9 472.6L58.9 474.7L59.9 476.7L60.7 478.9L61.5 481.0L62.3 483.2L63.0 485.4ZM217.9 556.0L214.1 556.3L210.5 556.0L206.9 555.6L203.3 555.0L199.8 554.3L196.3 553.4L192.8 552.4L189.4 551.2L186.1 549.9L183.0 548.0L186.8 548.4L190.5 549.1L194.0 549.8L197.6 550.6L201.1 551.3L204.5 552.1L208.0 553.0L211.3 553.8L214.7 554.7ZM247.1 559.9L242.8 560.0L238.6 559.5L234.4 558.8L230.3 557.8L226.2 556.7L222.2 555.4L218.2 553.9L214.3 552.3L210.5 550.4L206.9 548.0L211.2 548.7L215.2 549.8L219.3 550.9L223.3 552.1L227.2 553.3L231.2 554.5L235.2 555.7L239.2 556.9L243.2 558.2ZM242.0 577.0L236.5 577.0L231.2 576.2L225.8 575.0L220.6 573.7L215.4 572.1L210.3 570.2L205.3 568.2L200.4 565.9L195.6 563.3L191.1 560.1L196.5 561.3L201.6 563.0L206.6 564.7L211.7 566.4L216.8 568.1L221.8 569.8L226.9 571.4L231.9 573.1L237.0 574.8ZM234.9 570.0L231.8 569.8L228.7 569.3L225.7 568.7L222.7 568.0L219.7 567.2L216.8 566.3L213.8 565.3L210.9 564.2L208.1 563.0L205.4 561.4L208.5 562.0L211.5 562.8L214.4 563.6L217.4 564.4L220.3 565.3L223.3 566.1L226.2 567.0L229.1 567.9L232.0 568.8ZM157.6 592.3L154.8 591.6L152.1 590.5L149.5 589.4L146.9 588.1L144.4 586.8L141.9 585.4L139.5 584.0L137.1 582.4L134.8 580.8L132.7 578.8L135.4 579.8L138.0 581.0L140.6 582.3L143.1 583.6L145.6 585.0L148.0 586.3L150.5 587.7L152.9 589.1L155.3 590.5ZM214.8 591.9L211.1 591.9L207.6 591.3L204.1 590.6L200.6 589.7L197.2 588.6L193.9 587.5L190.5 586.1L187.3 584.7L184.1 583.0L181.2 580.8L184.9 581.3L188.4 582.2L191.8 583.2L195.2 584.2L198.5 585.3L201.9 586.4L205.2 587.6L208.5 588.8L211.7 590.1ZM237.4 595.1L235.2 595.1L233.1 594.7L231.1 594.1L229.1 593.4L227.1 592.6L225.1 591.8L223.2 590.8L221.3 589.7L219.4 588.5L217.7 586.9L219.9 587.0L221.9 587.6L223.9 588.2L225.8 589.0L227.8 589.7L229.8 590.6L231.7 591.5L233.6 592.5L235.6 593.6ZM218.0 533.0L210.8 532.5L203.8 531.4L196.9 529.8L190.0 527.9L183.2 525.7L176.5 523.1L169.8 520.2L163.3 516.9L157.0 513.3L151.1 509.0L158.1 512.0L164.8 515.0L171.5 517.9L178.2 520.5L184.9 523.0L191.6 525.2L198.2 527.3L204.9 529.2L211.5 531.0ZM211.4 537.4L206.8 536.8L202.3 535.8L197.9 534.6L193.5 533.2L189.2 531.7L184.9 530.0L180.7 528.1L176.5 526.1L172.5 523.8L168.7 521.2L173.2 522.8L177.5 524.6L181.8 526.3L186.1 528.0L190.4 529.6L194.6 531.2L198.9 532.7L203.1 534.2L207.3 535.7ZM187.2 563.7L182.3 562.7L177.6 561.2L173.0 559.5L168.4 557.6L163.9 555.6L159.5 553.4L155.1 551.1L150.8 548.6L146.6 546.0L142.7 543.0L147.4 545.0L151.8 547.2L156.3 549.4L160.7 551.5L165.2 553.6L169.6 555.6L174.0 557.6L178.5 559.6L182.9 561.5ZM168.0 564.8L163.4 563.6L158.9 562.0L154.5 560.2L150.2 558.2L146.0 556.1L141.8 553.9L137.6 551.5L133.6 549.0L129.6 546.4L126.0 543.4L130.4 545.5L134.6 547.8L138.8 550.0L143.0 552.2L147.2 554.3L151.4 556.5L155.6 558.5L159.8 560.6L164.0 562.6ZM200.1 598.5L196.0 598.0L192.0 597.0L188.1 595.9L184.2 594.7L180.3 593.3L176.5 591.8L172.7 590.2L169.0 588.5L165.4 586.6L161.9 584.4L166.0 585.5L169.8 586.9L173.7 588.3L177.5 589.7L181.3 591.1L185.1 592.5L188.9 593.9L192.7 595.3L196.4 596.8ZM252.8 567.6L248.7 567.8L244.8 567.5L240.9 567.0L237.0 566.3L233.1 565.5L229.3 564.5L225.5 563.4L221.8 562.0L218.1 560.5L214.6 558.6L218.6 559.0L222.5 559.8L226.3 560.7L230.1 561.5L233.9 562.4L237.7 563.3L241.5 564.2L245.3 565.2L249.0 566.2ZM255.9 585.8L251.8 585.8L247.7 585.5L243.7 585.0L239.7 584.4L235.7 583.6L231.7 582.8L227.8 581.7L223.9 580.6L220.0 579.3L216.3 577.6L220.4 578.2L224.3 579.1L228.3 579.9L232.2 580.7L236.2 581.5L240.1 582.3L244.1 583.1L248.0 583.9L251.9 584.7ZM253.5 552.5L250.4 552.4L247.2 552.1L244.1 551.6L241.0 551.1L238.0 550.4L234.9 549.7L231.9 548.9L228.9 547.9L225.9 546.9L223.0 545.6L226.2 546.2L229.2 546.8L232.3 547.5L235.3 548.2L238.4 548.9L241.4 549.6L244.4 550.2L247.5 550.9L250.5 551.6ZM255.9 600.9L249.6 600.7L243.4 600.0L237.2 599.1L231.0 598.0L224.9 596.6L218.9 595.0L212.9 593.1L206.9 591.1L201.1 588.8L195.5 586.0L201.5 587.6L207.5 589.4L213.5 591.0L219.5 592.6L225.6 594.2L231.6 595.6L237.6 597.0L243.7 598.3L249.8 599.5ZM244.6 545.1L238.5 544.3L232.5 543.1L226.6 541.5L220.8 539.7L215.0 537.6L209.4 535.3L203.8 532.7L198.4 529.9L193.1 526.8L188.1 523.3L193.7 525.7L199.2 528.2L204.8 530.7L210.4 533.0L216.0 535.2L221.7 537.3L227.3 539.3L233.1 541.2L238.8 543.1ZM94.0 165.0L96.8 161.9L99.6 158.9L102.6 156.1L105.6 153.3L108.7 150.5L111.9 147.9L115.1 145.4L118.5 142.9L121.8 140.5L125.3 138.3L122.2 141.0L119.0 143.6L115.9 146.2L112.7 148.8L109.6 151.5L106.5 154.2L103.4 156.9L100.3 159.6L97.2 162.3ZM133.5 134.1L136.0 132.1L138.6 130.3L141.2 128.6L143.9 126.9L146.7 125.3L149.4 123.7L152.2 122.3L155.1 120.9L158.0 119.5L160.9 118.3L158.2 120.0L155.5 121.6L152.8 123.1L150.0 124.7L147.3 126.3L144.6 127.8L141.8 129.4L139.0 131.0L136.3 132.5ZM59.1 213.0L61.0 209.4L63.1 205.8L65.3 202.3L67.6 198.9L70.0 195.5L72.5 192.2L75.0 189.0L77.6 185.8L80.3 182.7L83.2 179.7L80.7 183.1L78.3 186.3L75.8 189.6L73.4 192.9L71.0 196.2L68.6 199.6L66.2 202.9L63.8 206.3L61.5 209.6ZM185.1 106.3L187.9 104.9L190.8 103.7L193.8 102.5L196.7 101.4L199.7 100.3L202.7 99.4L205.8 98.5L208.8 97.7L211.9 97.0L215.0 96.4L212.0 97.5L209.1 98.5L206.1 99.5L203.1 100.5L200.1 101.5L197.1 102.4L194.1 103.4L191.1 104.4L188.1 105.4ZM501.6 528.1L501.1 529.4L500.4 530.6L499.7 531.8L499.0 533.0L498.2 534.0L497.3 535.1L496.5 536.1L495.5 537.1L494.6 538.0L493.5 538.8L494.0 537.5L494.7 536.3L495.4 535.2L496.2 534.1L497.0 533.0L497.8 531.9L498.7 530.9L499.6 529.9L500.5 529.0ZM537.8 259.8L539.4 261.7L540.8 263.7L542.0 265.7L543.1 267.9L544.0 270.0L544.7 272.3L545.2 274.6L545.5 276.9L545.7 279.2L545.6 281.7L544.1 279.6L542.9 277.6L541.8 275.5L540.8 273.3L539.9 271.2L539.2 269.0L538.6 266.8L538.2 264.5L537.9 262.2ZM551.8 329.1L552.8 331.2L553.6 333.3L554.2 335.5L554.6 337.6L554.9 339.8L554.9 341.9L554.7 344.1L554.4 346.2L553.8 348.4L553.1 350.5L552.3 348.4L551.6 346.2L551.1 344.1L550.7 342.0L550.5 339.8L550.4 337.7L550.5 335.6L550.8 333.5L551.2 331.3ZM524.2 227.8L526.0 230.6L527.6 233.4L529.1 236.3L530.6 239.2L531.9 242.1L533.2 245.1L534.4 248.2L535.5 251.2L536.5 254.3L537.3 257.5L535.8 254.5L534.5 251.6L533.1 248.6L531.8 245.7L530.5 242.7L529.2 239.8L527.9 236.8L526.6 233.8L525.3 230.9Z"/>
<path fill="none" stroke="url(#g)" stroke-width="1.5" stroke-linecap="round" d="M512.5 207.9C514.3 210.5 519.4 217.2 523.2 223.1C526.9 229.1 531.1 235.7 534.9 243.4C538.8 251.1 543.2 259.9 546.5 269.3C549.8 278.7 553.1 289.9 555.0 299.9C557.0 310.0 557.4 320.8 558.2 329.7C559.1 338.7 559.8 346.9 560.0 353.6C560.2 360.3 559.6 367.1 559.5 369.9M552.0 373.8C551.4 378.2 550.2 390.5 548.5 399.8C546.9 409.1 544.6 421.4 542.3 429.8C540.1 438.1 537.6 443.5 535.1 449.7C532.6 455.9 528.7 464.1 527.5 467.0"/>
<g fill-opacity="0.75">
<path d="M288 177.5 A179.5 179.5 0 0 0 288 536.5 Z" fill="#0069a2"/>
<path d="M288 357 L288 177.5 A179.5 179.5 0 0 1 393.5 211.8 Z" fill="#00c0cb"/>
<path d="M288 357 L393.5 211.8 A179.5 179.5 0 0 1 288 536.5 Z" fill="#0094bb"/>
</g>
</svg>
<div class="t ti" id="w1" style="left:14px;letter-spacing:-0.4px;">Stroke</div>
<div class="t ti" id="w2" style="left:169.2px;letter-spacing:1.2px;">Inflicted</div>
<div class="t ti" id="w3" style="left:362.5px;letter-spacing:1.2px;">Disabilities</div>
<div class="t sub" id="s1" style="left:29px;top:60px;">This chart showcases the percentages of stroke suvivors that</div>
<div class="t sub" id="s2" style="left:171px;top:85px;word-spacing:2.8px;">become impaired or disabled</div>
<div class="t lab" id="a1" style="left:373px;top:147.3px;">10% of Survivors are</div>
<div class="t lab" id="a2" style="left:388px;top:173.4px;word-spacing:4px;">Severely Disabled</div>
<div class="t lab" id="b1" style="left:482px;top:380.5px;">40% of Survivors are</div>
<div class="t lab" id="b2" style="left:483px;top:406.3px;letter-spacing:0.6px;word-spacing:0.5px;">Impaired to Varying</div>
<div class="t lab" id="b3" style="left:542.2px;top:432.3px;">Degrees</div>
<div class="t lab" id="c1" style="right:514px;top:355.4px;">50% of Survivors</div>
<div class="t lab" id="c2" style="right:566.5px;top:381.3px;transform-origin:100% 50%;transform:scaleX(1.14);">have Minor</div>
<div class="t lab" id="c3" style="right:496px;top:381.3px;">Trauma</div>
</body></html>
